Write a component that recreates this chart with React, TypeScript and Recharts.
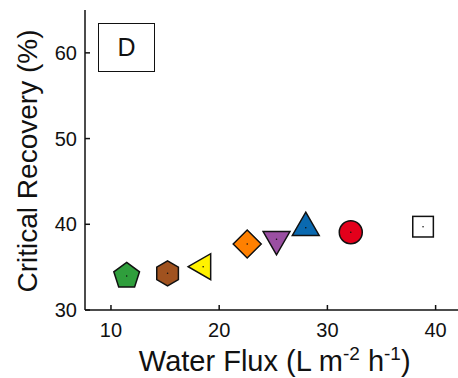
import React from "react";
import { ScatterChart, Scatter, XAxis, YAxis } from "recharts";

// 数据：水通量 vs 临界回收率
const fluxValues = [11.45, 15.23, 18.52, 22.59, 25.3, 28.0, 32.16, 38.84];
const recoveryValues = [33.97, 34.28, 35.05, 37.7, 38.25, 39.6, 39.07, 39.72];
const markerShapes = ["pentagon", "hexagon", "triangleLeft", "diamond", "triangleDown", "triangleUp", "circle", "square"];
const markerColors = ["#2f9e3c", "#a0521f", "#fff200", "#ff8000", "#9a4fa2", "#0a69b0", "#e3001b", "#ffffff"];

const xMajorTicks = [10, 20, 30, 40];
const xMinorTicks = [15, 25, 35];
const yMajorTicks = [30, 40, 50, 60];
const yMinorTicks = [35, 45, 55];

const data = fluxValues.map((x, i) => ({
  x,
  y: recoveryValues[i],
  shape: markerShapes[i],
  color: markerColors[i],
}));

const FONT = "'Liberation Sans', Arial, sans-serif";
const INK = "#111";
const X_DOMAIN = [7.6, 42.3];
const Y_DOMAIN = [30, 65];

function polygon(cx: number, cy: number, r: number, n: number, startDeg: number) {
  const pts: string[] = [];
  for (let k = 0; k < n; k++) {
    const a = ((startDeg + (360 / n) * k) * Math.PI) / 180;
    pts.push(`${cx + r * Math.cos(a)},${cy + r * Math.sin(a)}`);
  }
  return pts.join(" ");
}

function Marker(props: any) {
  const { cx, cy, payload } = props;
  const common = { fill: payload.color, stroke: INK, strokeWidth: 1.5 };
  let body: React.ReactNode = null;
  switch (payload.shape) {
    case "pentagon":
      body = <polygon points={polygon(cx, cy, 13.5, 5, -90)} {...common} />;
      break;
    case "hexagon":
      body = <polygon points={polygon(cx, cy, 12.5, 6, -90)} {...common} />;
      break;
    case "triangleLeft":
      body = <polygon points={polygon(cx, cy, 15, 3, 180)} {...common} />;
      break;
    case "diamond":
      body = <polygon points={polygon(cx, cy, 14, 4, -90)} {...common} />;
      break;
    case "triangleDown":
      body = <polygon points={polygon(cx, cy, 15.5, 3, 90)} {...common} />;
      break;
    case "triangleUp":
      body = <polygon points={polygon(cx, cy, 15.5, 3, -90)} {...common} />;
      break;
    case "circle":
      body = <circle cx={cx} cy={cy} r={11.5} {...common} />;
      break;
    default:
      body = <rect x={cx - 10.3} y={cy - 10.3} width={20.6} height={20.6} {...common} />;
  }
  return (
    <g>
      {body}
      <circle cx={cx} cy={cy} r={0.8} fill={INK} />
    </g>
  );
}

const EmptyTick = () => <g />;

function XTitle(props: any) {
  const { viewBox } = props;
  const cx = viewBox.x + viewBox.width / 2 + 2;
  return (
    <text x={cx} y={371} textAnchor="middle" fontFamily={FONT} fontSize={29} fill={INK}>
      Water Flux (L m
      <tspan dy={-11} fontSize={19}>-2</tspan>
      <tspan dy={11}> h</tspan>
      <tspan dy={-11} fontSize={19}>-1</tspan>
      <tspan dy={11}>)</tspan>
    </text>
  );
}

function YTitle() {
  return (
    <text
      x={37}
      y={161}
      transform="rotate(-90, 37, 161)"
      textAnchor="middle"
      fontFamily={FONT}
      fontSize={28}
      fill={INK}
    >
      Critical Recovery (%)
    </text>
  );
}

export default function App() {
  const tickStyle = { fontFamily: FONT, fontSize: 20, fill: INK };
  const axisStroke = { stroke: INK, strokeWidth: 1.5 };
  return (
    <div style={{ position: "absolute", left: 0, top: 0, width: 458, height: 378, overflow: "hidden", background: "#fff" }}>
      <ScatterChart width={462} height={378} margin={{ top: 10, right: 1.5, bottom: 0, left: 0 }}>
        <XAxis
          xAxisId="main"
          type="number"
          dataKey="x"
          domain={X_DOMAIN}
          ticks={xMajorTicks}
          allowDataOverflow
          height={68}
          tickSize={-5}
          tickMargin={18}
          tick={tickStyle}
          axisLine={axisStroke}
          tickLine={axisStroke}
          label={<XTitle />}
        />
        <XAxis
          xAxisId="minorB"
          type="number"
          domain={X_DOMAIN}
          ticks={xMinorTicks}
          allowDataOverflow
          height={0}
          tickSize={-3}
          tick={EmptyTick}
          axisLine={false}
          tickLine={axisStroke}
        />
        <XAxis
          xAxisId="top"
          orientation="top"
          type="number"
          domain={X_DOMAIN}
          ticks={xMajorTicks}
          allowDataOverflow
          height={0}
          tickSize={-5}
          tick={EmptyTick}
          axisLine={axisStroke}
          tickLine={axisStroke}
        />
        <XAxis
          xAxisId="topMinor"
          orientation="top"
          type="number"
          domain={X_DOMAIN}
          ticks={xMinorTicks}
          allowDataOverflow
          height={0}
          tickSize={-3}
          tick={EmptyTick}
          axisLine={false}
          tickLine={axisStroke}
        />
        <YAxis
          yAxisId="main"
          type="number"
          dataKey="y"
          domain={Y_DOMAIN}
          ticks={yMajorTicks}
          allowDataOverflow
          width={85}
          tickSize={-5}
          tickMargin={13}
          tick={tickStyle}
          axisLine={axisStroke}
          tickLine={axisStroke}
          label={<YTitle />}
        />
        <YAxis
          yAxisId="minorL"
          type="number"
          domain={Y_DOMAIN}
          ticks={yMinorTicks}
          allowDataOverflow
          width={0}
          tickSize={-3}
          tick={EmptyTick}
          axisLine={false}
          tickLine={axisStroke}
        />
        <YAxis
          yAxisId="right"
          orientation="right"
          type="number"
          domain={Y_DOMAIN}
          ticks={yMajorTicks}
          allowDataOverflow
          width={0}
          tickSize={-5}
          tick={EmptyTick}
          axisLine={axisStroke}
          tickLine={axisStroke}
        />
        <YAxis
          yAxisId="rightMinor"
          orientation="right"
          type="number"
          domain={Y_DOMAIN}
          ticks={yMinorTicks}
          allowDataOverflow
          width={0}
          tickSize={-3}
          tick={EmptyTick}
          axisLine={false}
          tickLine={{ stroke: "#ddd", strokeWidth: 1.5 }}
        />
        <Scatter
          data={data}
          xAxisId="main"
          yAxisId="main"
          shape={Marker}
          isAnimationActive={false}
        />
      </ScatterChart>
      <div
        style={{
          position: "absolute",
          left: 98,
          top: 23,
          width: 57,
          height: 49,
          border: `1.5px solid ${INK}`,
          fontFamily: FONT,
          fontSize: 25,
          color: INK,
          display: "flex",
          alignItems: "center",
          justifyContent: "center",
          boxSizing: "border-box",
        }}
      >
        D
      </div>
    </div>
  );
}
